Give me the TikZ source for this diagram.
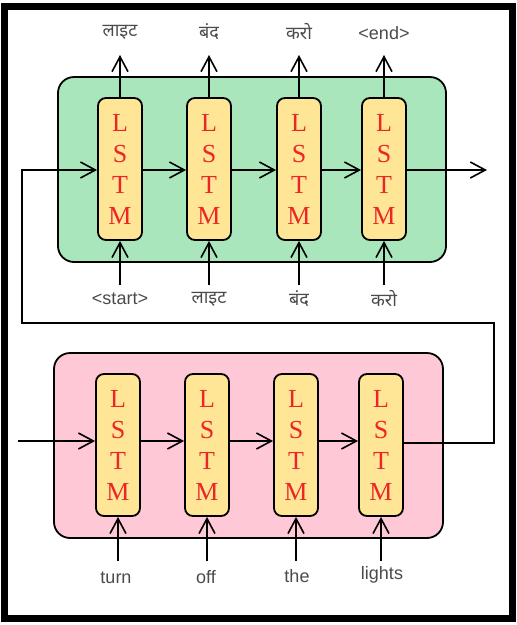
\documentclass[tikz,border=0pt]{standalone}
\usepackage{fontspec}
\setmainfont{Liberation Sans}
\newfontfamily\hin[Script=Devanagari]{Noto Sans}
\newfontfamily\lserif{Liberation Serif}
\usetikzlibrary{arrows.meta}
\definecolor{boxgreen}{RGB}{170,230,188}
\definecolor{boxpink}{RGB}{255,200,214}
\definecolor{cellyellow}{RGB}{255,230,150}
\definecolor{cellred}{RGB}{236,38,38}
\definecolor{lblgrey}{RGB}{75,75,75}
\tikzset{
  x=1pt, y=-1pt,
  lw/.style={line width=1.8pt},
  arr/.style={lw, -{Straight Barb[length=15pt,width=16pt,line width=1.6pt]}},
  panel/.style={draw, lw, rounded corners=16pt},
  cell/.style={draw, lw, fill=cellyellow, rounded corners=8pt, minimum width=44pt, minimum height=142pt, inner sep=0pt, align=center, font=\lserif\fontsize{26}{31}\selectfont, text=cellred},
  lbl/.style={font=\fontsize{18}{20}\selectfont, text=lblgrey, inner sep=1pt},
  hlbl/.style={font=\hin\fontsize{18}{20}\selectfont, text=lblgrey, inner sep=1pt}
}
\begin{document}
\begin{tikzpicture}
\useasboundingbox (0,0) rectangle (517,625);
\fill[white] (0,0) rectangle (517,625);
\draw[line width=7pt] (4.5,6) rectangle (512.5,618.5);
% panels
\draw[panel, fill=boxgreen] (58,77) rectangle (446,262);
\draw[panel, fill=boxpink] (54,353) rectangle (443,538);
% decoder cells
\node[cell] (d1) at (120,169) {L\\S\\T\\M};
\node[cell] (d2) at (209,169) {L\\S\\T\\M};
\node[cell] (d3) at (299,169) {L\\S\\T\\M};
\node[cell] (d4) at (384,169) {L\\S\\T\\M};
% encoder cells
\node[cell] (e1) at (118,445) {L\\S\\T\\M};
\node[cell] (e2) at (207,445) {L\\S\\T\\M};
\node[cell] (e3) at (296,445) {L\\S\\T\\M};
\node[cell] (e4) at (381,445) {L\\S\\T\\M};
% output labels
\node[hlbl] (o1) at (120,32) {लाइट};
\node[hlbl] (o2) at (209,32) {बंद};
\node[hlbl] (o3) at (299,32) {करो};
\node[lbl] (o4) at (384,33) {<end>};
\foreach \i in {1,...,4} {
  \coordinate (ot\i) at (d\i.north |- 0,55);
  \draw[arr] (d\i.north) -- (ot\i);
}
% decoder inputs
\node[lbl] (i1) at (120,299) {<start>};
\node[hlbl] (i2) at (209,299) {लाइट};
\node[hlbl] (i3) at (299,299) {बंद};
\node[hlbl] (i4) at (384,299) {करो};
\foreach \i in {1,...,4} {
  \coordinate (ib\i) at (d\i.south |- 0,285);
  \draw[arr] (ib\i) -- (d\i.south);
}
% encoder inputs
\node[lbl] (w1) at (116,578) {turn};
\node[lbl] (w2) at (206,577) {off};
\node[lbl] (w3) at (297,576) {the};
\node[lbl] (w4) at (382,575) {lights};
\foreach \i in {1,...,4} {
  \coordinate (wb\i) at (e\i.south |- 0,561);
  \draw[arr] (wb\i) -- (e\i.south);
}
% decoder chain
\draw[arr] (d1.east |- 0,170) -- (d2.west |- 0,170);
\draw[arr] (d2.east |- 0,170) -- (d3.west |- 0,170);
\draw[arr] (d3.east |- 0,170) -- (d4.west |- 0,170);
\coordinate (dout) at (487,170);
\draw[arr] (d4.east |- 0,170) -- (dout);
% encoder chain
\coordinate (ein) at (18,441);
\draw[arr] (ein) -- (e1.west |- 0,441);
\draw[arr] (e1.east |- 0,441) -- (e2.west |- 0,441);
\draw[arr] (e2.east |- 0,441) -- (e3.west |- 0,441);
\draw[arr] (e3.east |- 0,441) -- (e4.west |- 0,441);
% context vector path
\coordinate (c1) at (494,443);
\coordinate (c2) at (494,323);
\coordinate (c3) at (22,323);
\coordinate (c4) at (22,170);
\draw[arr] (e4.east |- 0,443) -- (c1) -- (c2) -- (c3) -- (c4) -- (d1.west |- 0,170);
\end{tikzpicture}
\end{document}
